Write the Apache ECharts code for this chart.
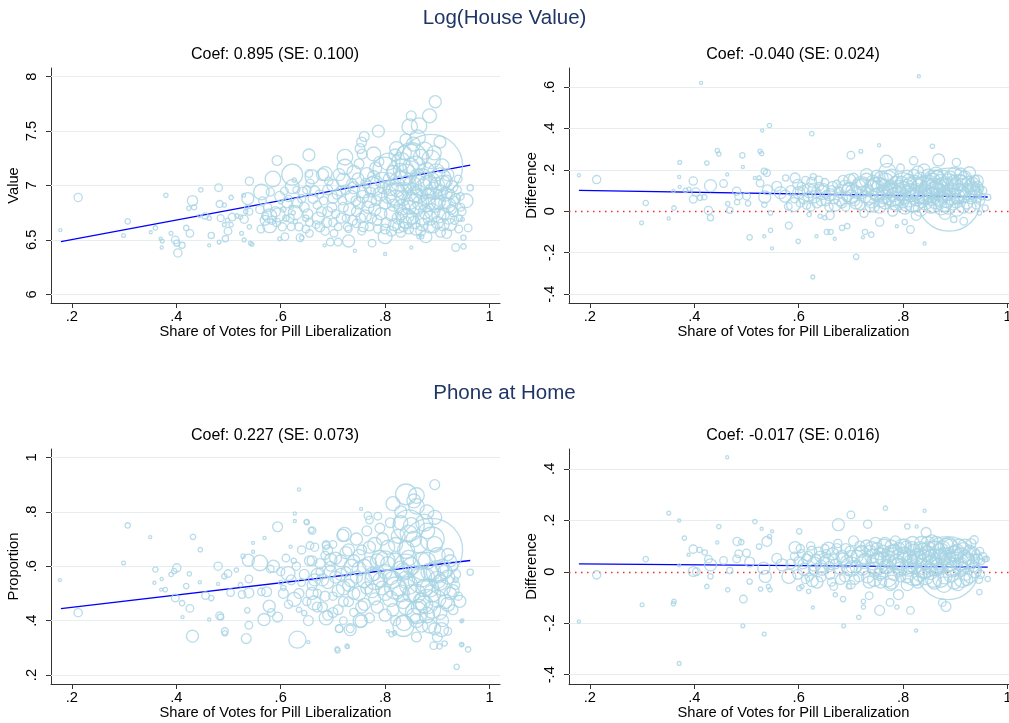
<!DOCTYPE html>
<html>
<head>
<meta charset="utf-8">
<title>Pill liberalization</title>
<script src="https://cdn.jsdelivr.net/npm/echarts@6.0.0/dist/echarts.min.js"></script>
<style>
  html, body { margin: 0; padding: 0; background: #fff; }
  #chart { width: 1009px; height: 723px; }
</style>
</head>
<body>
<div id="chart"></div>
<script>
// each point: [vote share, value, weight]
const lhPoints = [
  [0.178,6.59,2],[0.212,6.89,14],[0.299,6.54,3],[0.307,6.67,6],[0.351,6.57,2],[0.36,6.61,4],[0.38,6.91,4],[0.37,6.51,2],
  [0.372,6.43,2],[0.373,6.49,3],[0.39,6.56,3],[0.398,6.50,12],[0.401,6.47,8],[0.403,6.38,14],[0.411,6.45,8],[0.419,6.61,6],
  [0.426,6.56,12],[0.431,6.86,22],[0.424,6.79,4],[0.434,6.80,6],[0.447,6.96,4],[0.444,6.72,2],[0.455,6.72,8],[0.463,6.70,4],
  [0.467,6.54,8],[0.463,6.45,2],[0.481,6.98,12],[0.483,6.83,10],[0.492,6.82,4],[0.485,6.70,10],[0.498,6.68,4],[0.492,6.64,3],
  [0.505,6.64,4],[0.499,6.58,12],[0.494,6.51,8],[0.482,6.48,3],[0.505,6.89,4],[0.507,6.71,12],[0.516,6.72,4],[0.523,6.71,4],
  [0.53,6.69,14],[0.529,6.91,3],[0.537,6.88,30],[0.54,7.04,14],[0.535,6.80,4],[0.533,6.76,4],[0.54,6.76,10],[0.525,6.56,3],
  [0.53,6.50,3],[0.54,6.62,4],[0.542,6.47,3],[0.545,6.46,3],[0.563,6.94,50],[0.585,7.06,50],[0.593,7.23,20],[0.58,6.94,14],
  [0.57,6.72,10],[0.579,6.72,40],[0.583,6.68,14],[0.579,6.63,40],[0.562,6.60,12],[0.595,6.73,40],[0.60,6.85,4],[0.608,6.53,12],
  [0.598,6.51,3],[0.622,7.10,90],[0.622,6.99,40],[0.63,6.96,10],[0.626,7.05,4],[0.62,6.80,4],[0.624,6.75,4],[0.628,6.75,40],
  [0.62,6.62,12],[0.628,6.67,4],[0.637,6.52,12],[0.64,6.52,4],[0.605,6.78,6],[0.61,6.70,8],[0.615,6.88,8],[0.64,6.88,14],
  [0.645,6.80,20],[0.648,6.70,8],[0.65,6.96,14],[0.654,7.28,30],[0.654,7.11,12],[0.656,7.02,14],[0.655,6.66,12],[0.655,6.56,12],
  [0.66,7.08,40],[0.665,6.95,20],[0.67,6.82,14],[0.672,6.70,30],[0.675,6.62,20],[0.68,7.10,30],[0.685,7.11,40],[0.685,6.58,14],
  [0.69,6.96,20],[0.69,6.76,20],[0.695,6.48,12],[0.684,6.45,2],[0.70,6.66,14],[0.71,6.48,12],[0.73,6.49,30],[0.742,6.40,2],
  [0.775,6.47,12],[0.865,6.53,4],[0.87,6.53,4],[0.723,7.26,50],[0.723,7.17,50],[0.755,7.40,20],[0.756,7.29,20],[0.787,7.50,30],
  [0.70,7.00,30],[0.70,6.88,20],[0.705,6.74,14],[0.71,6.62,12],[0.715,6.95,20],[0.72,7.05,40],[0.72,6.80,20],[0.725,6.70,12],
  [0.73,6.60,10],[0.735,6.90,30],[0.74,7.12,40],[0.74,6.98,30],[0.745,6.76,20],[0.745,6.65,14],[0.75,6.84,30],[0.75,7.20,20],
  [0.752,7.34,20],[0.755,6.58,12],[0.76,7.45,20],[0.76,6.95,40],[0.762,6.72,30],[0.765,7.10,40],[0.77,6.86,40],[0.77,6.62,14],
  [0.775,7.00,60],[0.778,7.29,40],[0.78,6.78,30],[0.782,7.16,30],[0.785,6.68,20],[0.79,6.92,40],[0.795,7.05,50],[0.80,6.84,30],
  [0.80,6.53,40],[0.80,6.60,20],[0.80,6.37,2],[0.805,7.22,60],[0.81,6.98,50],[0.812,6.74,40],[0.815,7.12,40],[0.818,6.64,30],
  [0.82,6.88,60],[0.822,7.34,40],[0.825,6.70,30],[0.828,7.04,80],[0.83,6.57,20],[0.83,7.22,70],[0.832,6.80,50],[0.835,6.62,20],
  [0.836,6.95,60],[0.84,7.42,30],[0.84,7.10,90],[0.842,6.72,40],[0.845,6.60,20],[0.847,7.54,50],[0.848,6.86,60],[0.85,7.64,20],
  [0.85,7.30,60],[0.85,6.43,2],[0.852,7.00,70],[0.855,6.66,30],[0.858,7.18,80],[0.86,6.78,40],[0.862,7.44,50],[0.865,7.55,50],
  [0.865,6.92,60],[0.868,6.58,20],[0.888,7.18,820],[0.87,7.06,90],[0.872,6.70,40],[0.875,7.32,60],[0.878,6.53,30],[0.88,6.84,60],
  [0.882,7.00,80],[0.885,7.64,40],[0.885,6.62,30],[0.888,7.24,70],[0.89,6.76,50],[0.893,6.95,60],[0.896,7.77,30],[0.898,7.12,60],
  [0.90,6.66,30],[0.902,6.85,40],[0.905,7.40,30],[0.906,6.57,20],[0.91,7.02,50],[0.912,6.74,30],[0.915,6.92,40],[0.918,6.56,20],
  [0.92,7.10,30],[0.922,6.82,40],[0.925,6.64,30],[0.928,6.99,30],[0.93,6.76,20],[0.935,6.43,12],[0.935,6.88,20],[0.94,7.06,12],
  [0.942,6.70,8],[0.945,6.80,12],[0.95,6.52,6],[0.95,6.44,6],[0.955,6.86,40],[0.959,6.61,12],[0.963,6.98,8],[0.948,6.69,3],
  [0.56,6.78,14],[0.565,6.86,12],[0.57,6.68,20],[0.575,6.80,14],[0.59,6.76,20],[0.592,6.66,14],[0.598,6.90,20],[0.603,6.62,14],
  [0.607,6.95,12],[0.612,6.84,20],[0.618,6.70,14],[0.632,6.84,20],[0.635,6.62,14],[0.642,6.94,20],[0.648,6.60,12],[0.652,6.74,20],
  [0.662,6.88,20],[0.668,6.64,12],[0.674,6.92,14],[0.678,6.76,20],[0.682,6.86,14],[0.688,6.66,20],[0.692,7.04,14],[0.698,6.80,20],
  [0.702,6.56,12],[0.708,6.92,20],[0.712,7.10,30],[0.716,6.70,20],[0.718,6.86,14],[0.724,6.96,20],[0.728,6.62,14],[0.732,6.78,30],
  [0.736,7.02,20],[0.738,6.68,20],[0.744,6.86,20],[0.748,7.06,30],[0.753,6.70,20],[0.757,6.90,30],[0.758,6.62,20],[0.763,7.02,20],
  [0.767,6.80,30],[0.772,6.94,20],[0.774,6.70,20],[0.778,7.08,30],[0.783,6.86,20],[0.786,6.60,14],[0.788,7.22,20],[0.792,6.74,30],
  [0.797,6.98,30],[0.802,6.66,20],[0.806,6.90,40],[0.808,7.06,30],[0.812,6.58,20],[0.816,6.82,30],[0.819,7.28,30],[0.823,6.96,40],
  [0.826,6.62,30],[0.829,7.14,40],[0.831,6.74,30],[0.834,6.88,40],[0.837,7.30,40],[0.839,6.66,30],[0.843,7.02,50],[0.846,6.80,40],
  [0.849,7.18,50],[0.852,6.70,30],[0.854,7.38,40],[0.857,6.92,50],[0.859,6.60,30],[0.862,7.08,50],[0.866,6.84,40],[0.869,7.26,50],
  [0.871,6.64,30],[0.874,6.98,60],[0.877,6.76,40],[0.879,7.14,50],[0.883,6.90,50],[0.886,6.70,40],[0.889,7.04,60],[0.892,6.62,30],
  [0.894,7.30,40],[0.897,6.82,40],[0.899,7.00,50],[0.903,6.72,40],[0.906,6.94,40],[0.909,7.18,40],[0.911,6.64,30],[0.914,6.84,30],
  [0.917,7.04,30],[0.921,6.70,30],[0.924,6.92,20],[0.927,6.78,20],[0.931,6.86,20],[0.933,6.68,14],[0.938,6.96,14],[0.941,6.60,12],
  [0.944,6.90,12],[0.947,6.76,14],
  [0.85,7.25,200],[0.83,7.12,150],[0.875,7.00,150],[0.86,6.85,120],[0.80,7.15,120],[0.82,6.92,100],[0.89,6.88,100],[0.905,7.06,100],
  [0.84,6.70,80],[0.78,7.00,80]
];

const lhDiffPoints = [
  [0.179,0.174,2],[0.213,0.153,14],[0.299,-0.056,3],[0.307,0.040,6],[0.351,-0.035,2],[0.36,0.097,2],[0.361,0.016,4],[0.371,0.166,2],
  [0.372,0.236,3],[0.372,0.118,2],[0.383,0.101,4],[0.39,0.107,3],[0.398,0.146,14],[0.398,0.058,12],[0.403,0.093,14],[0.411,0.065,6],
  [0.419,0.068,6],[0.413,0.62,2],[0.424,0.233,4],[0.427,0.004,14],[0.431,-0.031,8],[0.431,0.124,30],[0.444,0.293,4],[0.447,0.277,4],
  [0.456,0.134,12],[0.463,0.178,2],[0.464,0.037,4],[0.468,0.005,8],[0.481,0.097,14],[0.482,0.044,6],[0.485,0.073,12],[0.50,0.073,12],
  [0.503,0.038,6],[0.492,0.27,6],[0.493,0.214,2],[0.506,-0.126,6],[0.516,0.161,2],[0.524,0.161,4],[0.526,0.29,4],[0.529,0.279,4],
  [0.53,0.39,2],[0.544,0.414,4],[0.534,0.193,8],[0.539,0.185,10],[0.526,0.136,12],[0.535,0.069,30],[0.54,0.104,20],[0.534,0.032,6],
  [0.534,-0.121,2],[0.546,-0.092,4],[0.546,-0.008,4],[0.549,-0.179,2],[0.558,0.121,20],[0.565,0.09,30],[0.574,0.073,30],[0.575,0.161,8],
  [0.581,-0.069,10],[0.593,0.161,20],[0.59,0.032,40],[0.58,0.024,12],[0.599,-0.145,4],
  [0.625,0.375,4],[0.628,0.167,8],[0.62,-0.015,4],[0.627,-0.317,3],[0.634,-0.121,2],[0.641,-0.024,4],[0.65,-0.031,4],[0.654,-0.10,6],
  [0.661,-0.10,6],[0.669,-0.133,2],[0.66,-0.02,14],[0.683,-0.08,6],[0.693,-0.072,6],[0.70,0.271,12],[0.719,0.29,3],[0.71,-0.22,6],
  [0.723,-0.126,2],[0.727,-0.1,6],[0.739,-0.113,6],[0.754,0.319,2],[0.755,-0.052,14],[0.768,0.242,30],[0.788,-0.072,2],[0.803,-0.052,6],
  [0.814,-0.088,12],[0.82,0.244,14],[0.83,0.652,2],[0.841,-0.156,2],[0.856,0.314,4],[0.868,0.248,30],[0.902,0.236,14],[0.897,-0.04,8],
  [0.916,-0.048,12],[0.927,0.186,30],[0.942,0.146,30],[0.946,-0.008,4],[0.957,0.016,8],[0.962,0.068,8],[0.888,0.056,820],
  [0.60,0.09,30],[0.605,0.12,14],[0.61,0.06,20],[0.615,0.03,14],[0.62,0.10,40],[0.625,0.14,20],[0.63,0.07,30],[0.635,0.04,20],
  [0.64,0.12,14],[0.645,0.09,40],[0.65,0.14,12],[0.652,0.05,20],[0.66,0.08,30],[0.665,0.12,20],[0.67,0.03,30],[0.675,0.10,14],
  [0.68,0.06,40],[0.685,0.15,20],[0.69,0.02,14],[0.695,0.11,30],[0.70,0.07,40],[0.705,0.16,20],[0.71,0.04,30],[0.715,0.12,40],
  [0.72,0.09,30],[0.725,-0.01,14],[0.73,0.15,40],[0.735,0.06,30],[0.74,0.11,50],[0.745,0.02,20],[0.75,0.17,30],[0.752,0.08,40],
  [0.76,0.13,30],[0.765,0.04,30],[0.77,0.19,60],[0.775,0.10,40],[0.78,0.00,20],[0.785,0.14,30],[0.79,0.06,40],[0.795,0.21,12],
  [0.80,0.11,40],[0.805,0.03,30],[0.81,0.15,30],[0.815,0.08,40],[0.82,0.18,20],[0.825,-0.02,20],[0.83,0.12,40],[0.835,0.05,40],
  [0.84,0.20,30],[0.845,0.09,50],[0.85,0.14,40],[0.852,0.02,30],[0.86,0.10,60],[0.865,0.17,30],[0.87,0.06,50],[0.875,0.13,40],
  [0.88,-0.01,30],[0.885,0.09,50],[0.89,0.16,40],[0.895,0.04,40],[0.90,0.12,50],[0.905,0.07,40],[0.91,0.18,30],[0.915,0.02,30],
  [0.92,0.10,40],[0.925,0.14,30],[0.93,0.06,20],[0.935,0.11,30],[0.94,0.03,14],[0.945,0.09,12],[0.95,0.07,8],[0.855,0.07,60],
  [0.868,0.11,70],[0.878,0.04,60],[0.83,0.08,60],[0.81,0.10,40],[0.79,0.12,30],[0.73,0.177,30],
  [0.585,0.10,20],[0.592,0.06,14],[0.598,0.13,20],[0.603,0.04,14],[0.608,0.10,20],[0.613,0.15,12],[0.618,0.07,20],[0.623,0.02,14],
  [0.628,0.11,20],[0.633,0.09,20],[0.638,0.15,14],[0.643,0.05,20],[0.648,0.11,20],[0.653,0.08,14],[0.658,0.02,14],[0.663,0.10,20],
  [0.668,0.06,20],[0.673,0.13,14],[0.678,0.09,20],[0.683,0.04,20],[0.688,0.12,30],[0.692,0.07,20],[0.698,0.15,30],[0.702,0.10,30],
  [0.707,0.05,20],[0.712,0.09,30],[0.717,0.03,20],[0.722,0.13,30],[0.727,0.07,30],[0.732,0.10,30],[0.737,0.02,20],[0.742,0.14,40],
  [0.747,0.08,30],[0.752,0.12,30],[0.757,0.05,30],[0.762,0.09,40],[0.767,0.15,40],[0.772,0.06,30],[0.777,0.12,30],[0.782,0.08,40],
  [0.787,0.03,30],[0.792,0.10,40],[0.797,0.14,30],[0.802,0.07,40],[0.807,0.12,40],[0.812,0.05,30],[0.817,0.10,40],[0.822,0.14,40],
  [0.827,0.06,40],[0.832,0.16,30],[0.837,0.09,50],[0.842,0.04,40],[0.847,0.12,50],[0.852,0.08,50],[0.857,0.15,40],[0.862,0.05,50],
  [0.867,0.10,50],[0.872,0.14,50],[0.877,0.08,50],[0.882,0.12,50],[0.887,0.02,40],[0.892,0.10,50],[0.897,0.14,40],[0.902,0.05,40],
  [0.907,0.10,40],[0.912,0.13,30],[0.917,0.07,30],[0.922,0.04,30],[0.927,0.12,30],[0.932,0.08,20],[0.937,0.15,20],[0.942,0.06,14],
  [0.947,0.11,12],[0.89,0.12,60],[0.87,0.09,60],[0.86,0.12,60],[0.905,0.09,60],
  [0.80,0.12,150],[0.84,0.10,150],[0.78,0.08,100],[0.75,0.11,100],[0.86,0.14,120],[0.82,0.05,100],[0.91,0.12,100],[0.70,0.09,80],
  [0.72,0.12,80],[0.77,0.15,80],[0.803,0.02,40],[0.808,0.17,30],[0.813,0.13,40],[0.818,0.03,40],[0.823,0.09,50],[0.828,0.19,30],
  [0.833,0.01,40],[0.838,0.13,50],[0.843,0.07,50],[0.848,0.17,40],[0.853,0.11,60],[0.858,0.03,50],[0.863,0.18,40],[0.868,0.07,60],
  [0.873,0.02,50],[0.878,0.16,50],[0.883,0.06,60],[0.888,0.14,60],[0.893,0.07,60],[0.898,0.18,40],[0.903,0.01,40],[0.908,0.14,50],
  [0.913,0.08,50],[0.918,0.16,40],[0.923,0.09,40],[0.928,0.02,30],[0.933,0.13,40],[0.938,0.09,30],[0.943,0.12,20],[0.948,0.05,14],
  [0.953,0.10,12],[0.74,0.05,40],[0.745,0.13,40],[0.755,0.02,30],[0.758,0.16,40],[0.763,0.07,40],[0.773,0.11,40],[0.778,0.17,40],
  [0.783,0.04,40],[0.793,0.09,40],[0.798,0.05,40]
];

const phonePoints = [
  [0.177,0.549,2],[0.212,0.429,14],[0.299,0.612,3],[0.307,0.75,6],[0.35,0.707,2],[0.36,0.588,6],[0.358,0.539,2],[0.372,0.553,2],
  [0.371,0.514,2],[0.379,0.514,4],[0.39,0.57,4],[0.396,0.582,6],[0.401,0.594,14],[0.398,0.483,12],[0.411,0.464,6],[0.412,0.413,2],
  [0.419,0.527,6],[0.425,0.572,4],[0.432,0.708,6],[0.431,0.343,30],[0.426,0.445,12],[0.445,0.541,2],[0.446,0.661,4],[0.456,0.492,12],
  [0.467,0.483,6],[0.463,0.404,2],[0.48,0.60,14],[0.48,0.535,2],[0.483,0.418,12],[0.485,0.413,8],[0.492,0.563,6],[0.499,0.573,12],
  [0.493,0.361,10],[0.493,0.353,6],[0.504,0.503,12],[0.515,0.586,4],[0.523,0.532,4],[0.526,0.496,12],[0.528,0.637,4],[0.534,0.334,20],
  [0.536,0.438,6],[0.539,0.502,20],[0.538,0.622,30],[0.539,0.553,12],[0.539,0.383,12],[0.547,0.653,2],[0.547,0.686,2],[0.56,0.612,50],
  [0.563,0.506,12],[0.573,0.506,20],[0.568,0.404,30],[0.569,0.704,2],[0.578,0.453,30],[0.582,0.43,12],[0.586,0.60,30],[0.58,0.59,12],
  [0.594,0.745,20],[0.594,0.413,20],[0.60,0.54,4],[0.605,0.52,6],[0.614,0.573,40],[0.619,0.672,2],[0.625,0.62,6],[0.627,0.794,2],
  [0.635,0.882,2],[0.627,0.766,2],[0.632,0.33,60],[0.64,0.54,12],[0.626,0.478,40],[0.65,0.762,6],[0.656,0.676,12],[0.659,0.733,6],
  [0.653,0.321,2],[0.653,0.40,20],[0.645,0.428,6],[0.635,0.44,6],[0.66,0.50,30],[0.67,0.57,30],[0.687,0.676,12],[0.696,0.625,30],
  [0.709,0.291,6],[0.728,0.303,2],[0.712,0.37,12],[0.733,0.37,12],[0.719,0.713,30],[0.754,0.811,2],[0.767,0.786,12],[0.786,0.784,12],
  [0.77,0.77,12],[0.754,0.398,30],[0.805,0.361,2],[0.812,0.35,6],[0.835,0.38,90],[0.84,0.864,90],[0.86,0.86,50],[0.855,0.84,40],
  [0.895,0.90,20],[0.88,0.80,40],[0.893,0.308,12],[0.904,0.305,6],[0.914,0.316,6],[0.937,0.23,6],[0.948,0.312,2],[0.959,0.294,6],
  [0.948,0.401,2],[0.943,0.471,30],[0.963,0.578,8],[0.935,0.55,6],[0.649,0.763,4],[0.66,0.731,12],[0.722,0.717,40],[0.687,0.68,12],
  [0.708,0.296,4],[0.727,0.306,4],[0.733,0.367,30],[0.712,0.371,12],[0.687,0.41,40],[0.664,0.465,40],[0.818,0.355,4],[0.836,0.392,50],
  [0.885,0.38,40],[0.908,0.367,40],[0.92,0.361,12],[0.946,0.312,4],[0.946,0.398,2],
  [0.66,0.62,20],[0.665,0.55,30],[0.67,0.50,14],[0.675,0.58,12],[0.68,0.45,20],[0.685,0.64,14],[0.69,0.54,30],[0.69,0.42,20],
  [0.695,0.60,20],[0.70,0.49,14],[0.70,0.68,12],[0.705,0.56,30],[0.71,0.44,20],[0.715,0.62,30],[0.72,0.52,40],[0.72,0.40,12],
  [0.725,0.58,20],[0.73,0.66,30],[0.73,0.47,20],[0.735,0.55,40],[0.74,0.62,30],[0.74,0.43,14],[0.745,0.70,30],[0.75,0.50,40],
  [0.75,0.59,40],[0.752,0.40,40],[0.755,0.66,20],[0.76,0.46,30],[0.76,0.55,50],[0.765,0.73,20],[0.77,0.61,40],[0.77,0.41,20],
  [0.775,0.51,40],[0.78,0.68,40],[0.78,0.57,30],[0.785,0.45,30],[0.79,0.63,50],[0.79,0.74,20],[0.795,0.52,40],[0.80,0.58,40],
  [0.80,0.42,30],[0.805,0.67,40],[0.81,0.48,50],[0.81,0.76,20],[0.815,0.55,60],[0.82,0.62,50],[0.82,0.40,20],[0.825,0.71,40],
  [0.83,0.50,60],[0.83,0.80,30],[0.835,0.58,60],[0.84,0.45,50],[0.84,0.66,60],[0.845,0.53,70],[0.85,0.75,50],[0.85,0.60,60],
  [0.855,0.42,40],[0.86,0.50,70],[0.86,0.82,50],[0.865,0.68,60],[0.87,0.56,80],[0.87,0.38,30],[0.875,0.46,60],[0.88,0.62,60],
  [0.88,0.73,50],[0.885,0.52,70],[0.888,0.66,820],[0.89,0.44,60],[0.89,0.58,60],[0.895,0.78,40],[0.90,0.48,60],[0.90,0.64,50],
  [0.905,0.54,50],[0.91,0.40,30],[0.91,0.60,40],[0.915,0.47,40],[0.92,0.56,40],[0.92,0.643,30],[0.925,0.50,30],[0.93,0.60,20],
  [0.93,0.44,20],[0.935,0.53,14],
  [0.60,0.58,14],[0.605,0.50,20],[0.61,0.63,12],[0.615,0.46,14],[0.62,0.55,20],[0.63,0.60,14],[0.635,0.50,20],[0.64,0.66,14],
  [0.645,0.57,20],[0.65,0.47,14],[0.655,0.62,20],[0.66,0.53,20],[0.665,0.67,14],[0.67,0.45,20],[0.675,0.61,20],[0.68,0.55,30],
  [0.685,0.49,20],[0.69,0.66,20],[0.695,0.58,30],[0.70,0.43,20],[0.705,0.63,30],[0.71,0.51,30],[0.715,0.57,30],[0.72,0.47,20],
  [0.725,0.65,30],[0.73,0.53,30],[0.735,0.60,40],[0.74,0.50,30],[0.745,0.56,30],[0.75,0.64,30],[0.755,0.45,30],[0.76,0.60,40],
  [0.765,0.52,30],[0.77,0.67,30],[0.775,0.57,40],[0.78,0.48,30],[0.785,0.62,40],[0.79,0.55,40],[0.795,0.70,30],[0.80,0.50,40],
  [0.805,0.61,40],[0.81,0.56,50],[0.815,0.44,30],[0.82,0.68,40],[0.825,0.52,50],[0.83,0.59,50],[0.835,0.47,40],[0.84,0.55,60],
  [0.845,0.63,50],[0.85,0.50,60],[0.855,0.70,50],[0.86,0.57,60],[0.865,0.45,50],[0.87,0.62,60],[0.875,0.52,60],[0.88,0.42,50],
  [0.885,0.58,60],[0.89,0.50,60],[0.895,0.68,50],[0.90,0.55,60],[0.905,0.43,40],[0.91,0.52,50],[0.915,0.58,40],[0.92,0.46,40],
  [0.925,0.62,30],[0.93,0.51,30],[0.935,0.57,20],[0.94,0.49,14],[0.86,0.40,40],[0.87,0.47,60],[0.845,0.72,60],[0.83,0.76,40],
  [0.875,0.76,60],[0.815,0.83,40],[0.86,0.34,20],[0.895,0.37,30],[0.90,0.34,20],
  [0.845,0.75,200],[0.87,0.55,150],[0.84,0.60,120],[0.88,0.47,120],[0.82,0.52,100],[0.90,0.58,100],[0.86,0.43,100],[0.80,0.62,80],
  [0.89,0.70,120],[0.78,0.55,80]
];

const phoneDiffPoints = [
  [0.179,-0.193,2],[0.213,-0.012,14],[0.30,-0.128,3],[0.307,0.049,6],[0.351,0.228,3],[0.371,0.199,2],[0.371,0.025,2],[0.371,-0.356,3],
  [0.36,-0.124,4],[0.361,-0.115,4],[0.381,0.131,4],[0.389,0.066,2],[0.398,0.088,14],[0.398,0.001,20],[0.404,0.0,12],[0.41,0.085,6],
  [0.42,0.075,6],[0.427,0.049,12],[0.431,0.027,30],[0.431,-0.018,6],[0.424,-0.057,4],[0.444,0.114,2],[0.447,0.176,4],[0.456,0.044,12],
  [0.463,0.445,2],[0.464,-0.07,4],[0.468,0.005,8],[0.482,0.118,14],[0.481,0.05,12],[0.485,0.07,12],[0.49,0.115,6],[0.494,-0.106,12],
  [0.493,-0.21,3],[0.50,0.073,12],[0.506,-0.038,6],[0.506,0.038,20],[0.516,0.195,4],[0.524,0.098,6],[0.529,0.167,2],[0.539,0.118,20],
  [0.544,0.137,4],[0.527,-0.067,4],[0.542,-0.057,4],[0.545,-0.07,4],[0.534,-0.242,3],[0.549,0.157,2],[0.536,-0.018,30],[0.533,0.014,30],
  [0.558,0.052,20],[0.568,0.027,30],[0.581,-0.018,40],[0.593,0.094,30],[0.601,0.157,6],[0.601,-0.064,6],[0.606,-0.057,4],[0.619,-0.076,4],
  [0.627,-0.139,2],[0.626,-0.035,30],[0.643,0.021,30],[0.657,0.092,30],[0.667,-0.057,12],[0.67,-0.089,4],[0.676,0.183,30],[0.686,-0.21,3],
  [0.685,-0.106,6],[0.70,0.221,12],[0.696,-0.057,6],[0.715,-0.177,4],[0.724,-0.115,4],[0.724,-0.137,4],[0.732,0.185,14],[0.735,-0.093,12],
  [0.755,-0.15,20],[0.766,0.247,4],[0.775,-0.119,12],[0.788,-0.137,4],[0.791,-0.089,20],[0.814,-0.15,12],[0.825,-0.228,2],[0.808,0.176,6],
  [0.826,0.176,2],[0.841,0.237,2],[0.844,0.153,20],[0.882,-0.135,20],[0.875,-0.12,12],[0.936,0.124,14],[0.957,0.049,6],[0.946,-0.079,6],
  [0.962,-0.028,6],
  [0.60,0.04,20],[0.605,0.07,14],[0.61,0.01,30],[0.615,0.05,20],[0.62,-0.02,14],[0.625,0.08,20],[0.63,0.03,40],[0.635,-0.04,30],
  [0.64,0.06,20],[0.645,0.01,30],[0.65,0.09,14],[0.655,0.04,40],[0.66,-0.01,20],[0.665,0.07,30],[0.67,0.03,20],[0.675,0.11,14],
  [0.68,-0.03,20],[0.685,0.05,30],[0.69,0.09,20],[0.695,0.01,30],[0.70,-0.05,14],[0.70,0.06,30],[0.705,0.12,20],[0.71,0.02,30],
  [0.715,-0.02,20],[0.72,0.08,30],[0.725,0.04,40],[0.73,0.10,30],[0.735,-0.04,30],[0.74,0.06,40],[0.745,0.01,40],[0.75,0.09,30],
  [0.755,-0.01,30],[0.76,0.05,40],[0.765,0.11,30],[0.77,0.02,40],[0.775,-0.05,30],[0.78,0.07,30],[0.785,0.12,20],[0.79,0.03,30],
  [0.795,-0.02,20],[0.80,0.06,30],[0.805,0.10,20],[0.81,0.01,40],[0.815,0.04,40],[0.82,0.08,40],[0.825,-0.03,30],[0.83,0.05,50],
  [0.835,0.11,40],[0.84,0.00,40],[0.845,0.07,50],[0.85,0.03,50],[0.855,0.12,30],[0.86,-0.04,40],[0.865,0.06,60],[0.87,0.02,60],
  [0.875,0.09,50],[0.88,-0.02,40],[0.885,0.014,820],[0.885,0.05,60],[0.89,0.10,40],[0.895,0.01,50],[0.90,0.07,50],[0.905,-0.05,30],
  [0.91,0.03,40],[0.915,0.09,30],[0.92,-0.01,30],[0.925,0.05,30],[0.93,0.11,20],[0.935,0.02,20],[0.94,0.07,14],[0.945,-0.03,12],
  [0.95,0.04,8],[0.96,0.05,6],
  [0.585,0.03,20],[0.592,0.06,14],[0.598,-0.01,20],[0.603,0.09,14],[0.608,0.03,20],[0.613,-0.03,14],[0.618,0.06,20],[0.623,0.10,14],
  [0.628,0.01,20],[0.633,0.05,20],[0.638,0.08,14],[0.643,-0.02,20],[0.648,0.04,20],[0.653,0.07,14],[0.658,0.02,20],[0.663,-0.04,14],
  [0.668,0.05,20],[0.673,0.09,20],[0.678,0.01,20],[0.683,0.06,30],[0.688,-0.02,20],[0.692,0.04,30],[0.698,0.08,20],[0.702,0.02,30],
  [0.707,-0.03,20],[0.712,0.06,30],[0.717,0.10,20],[0.722,0.01,30],[0.727,0.05,30],[0.732,-0.02,30],[0.737,0.08,30],[0.742,0.03,30],
  [0.747,0.11,30],[0.752,0.05,40],[0.757,-0.04,30],[0.762,0.08,30],[0.767,0.02,40],[0.772,0.06,30],[0.777,0.10,30],[0.782,-0.01,30],
  [0.787,0.04,40],[0.792,0.09,30],[0.797,0.03,30],[0.802,0.07,40],[0.807,-0.02,30],[0.812,0.05,40],[0.817,0.09,40],[0.822,0.02,40],
  [0.827,0.06,50],[0.832,-0.01,40],[0.837,0.08,50],[0.842,0.04,50],[0.847,0.11,40],[0.852,0.00,50],[0.857,0.06,50],[0.862,0.09,50],
  [0.867,0.02,50],[0.872,-0.03,50],[0.877,0.06,60],[0.882,0.10,50],[0.887,0.03,50],[0.892,-0.01,50],[0.897,0.07,50],[0.902,0.04,40],
  [0.907,0.10,40],[0.912,0.01,40],[0.917,0.06,30],[0.922,-0.03,30],[0.927,0.08,30],[0.932,0.03,20],[0.937,0.05,20],[0.942,0.01,14],
  [0.947,0.08,12],[0.87,0.05,70],[0.86,0.02,70],[0.89,0.04,70],
  [0.80,0.04,150],[0.84,0.03,150],[0.78,0.06,100],[0.75,0.03,100],[0.86,0.07,120],[0.82,-0.01,100],[0.91,0.05,100],[0.70,0.02,80],
  [0.72,0.06,80],[0.77,-0.02,80],[0.803,0.10,40],[0.808,-0.05,30],[0.813,0.02,40],[0.818,0.11,40],[0.823,0.05,50],[0.828,-0.04,30],
  [0.833,0.09,40],[0.838,0.02,50],[0.843,-0.02,50],[0.848,0.09,40],[0.853,0.05,60],[0.858,-0.03,50],[0.863,0.11,40],[0.868,0.04,60],
  [0.873,0.08,50],[0.878,-0.05,50],[0.883,0.06,60],[0.888,0.10,60],[0.893,0.02,60],[0.898,-0.04,40],[0.903,0.08,40],[0.908,0.02,50],
  [0.913,-0.03,50],[0.918,0.10,40],[0.923,0.04,40],[0.928,-0.02,30],[0.933,0.07,40],[0.938,0.00,30],[0.943,0.05,20],[0.948,-0.01,14],
  [0.953,0.06,12],[0.74,0.09,40],[0.745,-0.03,40],[0.755,0.07,30],[0.758,0.00,40],[0.763,0.10,40],[0.773,0.04,40],[0.778,-0.04,40],
  [0.783,0.08,40],[0.793,0.01,40],[0.798,0.10,40]
];

// fitted lines, endpoints
const lhFit = [[0.179, 6.484], [0.963, 7.188]];
const lhDiffFit = [[0.179, 0.101], [0.962, 0.069]];
const phoneFit = [[0.179, 0.444], [0.963, 0.621]];
const phoneDiffFit = [[0.179, 0.031], [0.962, 0.018]];

// tick labels
const xTicks = [0.2, 0.4, 0.6, 0.8, 1];
const lhTicks = [6, 6.5, 7, 7.5, 8];
const lhDiffTicks = [-0.4, -0.2, 0, 0.2, 0.4, 0.6];
const phoneTicks = [0.2, 0.4, 0.6, 0.8, 1];
const phoneDiffTicks = [-0.4, -0.2, 0, 0.2, 0.4];

const sectionTitles = ['Log(House Value)', 'Phone at Home'];
const coefLabels = ['Coef: 0.895 (SE: 0.100)', 'Coef: -0.040 (SE: 0.024)', 'Coef: 0.227 (SE: 0.073)', 'Coef: -0.017 (SE: 0.016)'];
const yNames = ['Value', 'Difference', 'Proportion', 'Difference'];
const xName = 'Share of Votes for Pill Liberalization';

const font = "'Liberation Sans', Arial, sans-serif";
const fmt = v => String(+(+v).toFixed(2)).replace('0.', '.');

const panels = [
  { left: 51, top: 68, points: lhPoints, fit: lhFit, ticks: lhTicks, range: [5.92, 8.08], zero: false },
  { left: 569, top: 68, points: lhDiffPoints, fit: lhDiffFit, ticks: lhDiffTicks, range: [-0.443, 0.692], zero: true },
  { left: 51, top: 449, points: phonePoints, fit: phoneFit, ticks: phoneTicks, range: [0.167, 1.031], zero: false },
  { left: 569, top: 449, points: phoneDiffPoints, fit: phoneDiffFit, ticks: phoneDiffTicks, range: [-0.436, 0.477], zero: true }
];

const chart = echarts.init(document.getElementById('chart'));

const grid = [], xAxis = [], yAxis = [], series = [], title = [];

title.push({ text: sectionTitles[0], left: 'center', top: 8, padding: 0,
  textStyle: { fontFamily: font, fontSize: 20.5, fontWeight: 'normal', color: '#1e3566' } });
title.push({ text: sectionTitles[1], left: 'center', top: 383, padding: 0,
  textStyle: { fontFamily: font, fontSize: 20.5, fontWeight: 'normal', color: '#1e3566' } });

panels.forEach((p, i) => {
  // right panels run past the window edge, as in the original
  grid.push({ left: p.left, top: p.top, width: 449, height: 235, outerBoundsMode: 'none' });

  title.push({ text: coefLabels[i], left: p.left + 224, textAlign: 'center', top: p.top - 21.5, padding: 0,
    textStyle: { fontFamily: font, fontSize: 16, fontWeight: 'normal', color: '#000' } });

  xAxis.push({
    type: 'value', gridIndex: i, min: 0.16, max: 1.02,
    name: xName, nameLocation: 'middle', nameGap: 21,
    nameTextStyle: { fontFamily: font, fontSize: 14.7, color: '#000' },
    axisLine: { show: true, onZero: false, lineStyle: { color: '#333', width: 1 } },
    axisTick: { show: true, customValues: xTicks, length: 5, lineStyle: { color: '#333' } },
    axisLabel: { customValues: xTicks, formatter: fmt, margin: 6, fontFamily: font, fontSize: 14.7, color: '#000' },
    splitLine: { show: false }
  });

  yAxis.push({
    type: 'value', gridIndex: i, min: p.range[0], max: p.range[1],
    name: yNames[i], nameLocation: 'middle', nameGap: 30, nameRotate: 90,
    nameTextStyle: { fontFamily: font, fontSize: 14.7, color: '#000' },
    axisLine: { show: true, onZero: false, lineStyle: { color: '#333', width: 1 } },
    axisTick: { show: true, customValues: p.ticks, length: 5, lineStyle: { color: '#333' } },
    axisLabel: { customValues: p.ticks, formatter: fmt, rotate: 90, margin: 12, fontFamily: font, fontSize: 14.7, color: '#000' },
    splitLine: { show: false }
  });

  // light grid lines and the dotted zero line sit under the markers
  const marks = p.ticks.filter(v => !(p.zero && v === 0)).map(v => ({ yAxis: v }));
  if (p.zero) {
    marks.push({ yAxis: 0, lineStyle: { color: '#e8303a', width: 1.4, type: [1.5, 4.5] } });
  }

  series.push({
    type: 'scatter', xAxisIndex: i, yAxisIndex: i,
    data: p.points,
    symbol: 'circle',
    symbolSize: d => Math.sqrt(d[2]) * 2.2,
    itemStyle: { color: 'rgba(0,0,0,0)', borderColor: '#a6d3e3', borderWidth: 1.3 },
    emphasis: { disabled: true },
    silent: true,
    z: 3,
    markLine: {
      silent: true, symbol: 'none', z: 1,
      label: { show: false },
      lineStyle: { color: '#e6eef2', width: 1, type: 'solid' },
      data: marks
    }
  });

  // fit line drawn under the markers, so dense clusters break it up
  series.push({
    type: 'line', xAxisIndex: i, yAxisIndex: i,
    data: p.fit, showSymbol: false, silent: true, z: 2,
    lineStyle: { color: '#0000ff', width: 1.3 }
  });
});

chart.setOption({
  animation: false,
  backgroundColor: '#fff',
  title, grid, xAxis, yAxis, series
});
</script>
</body>
</html>
